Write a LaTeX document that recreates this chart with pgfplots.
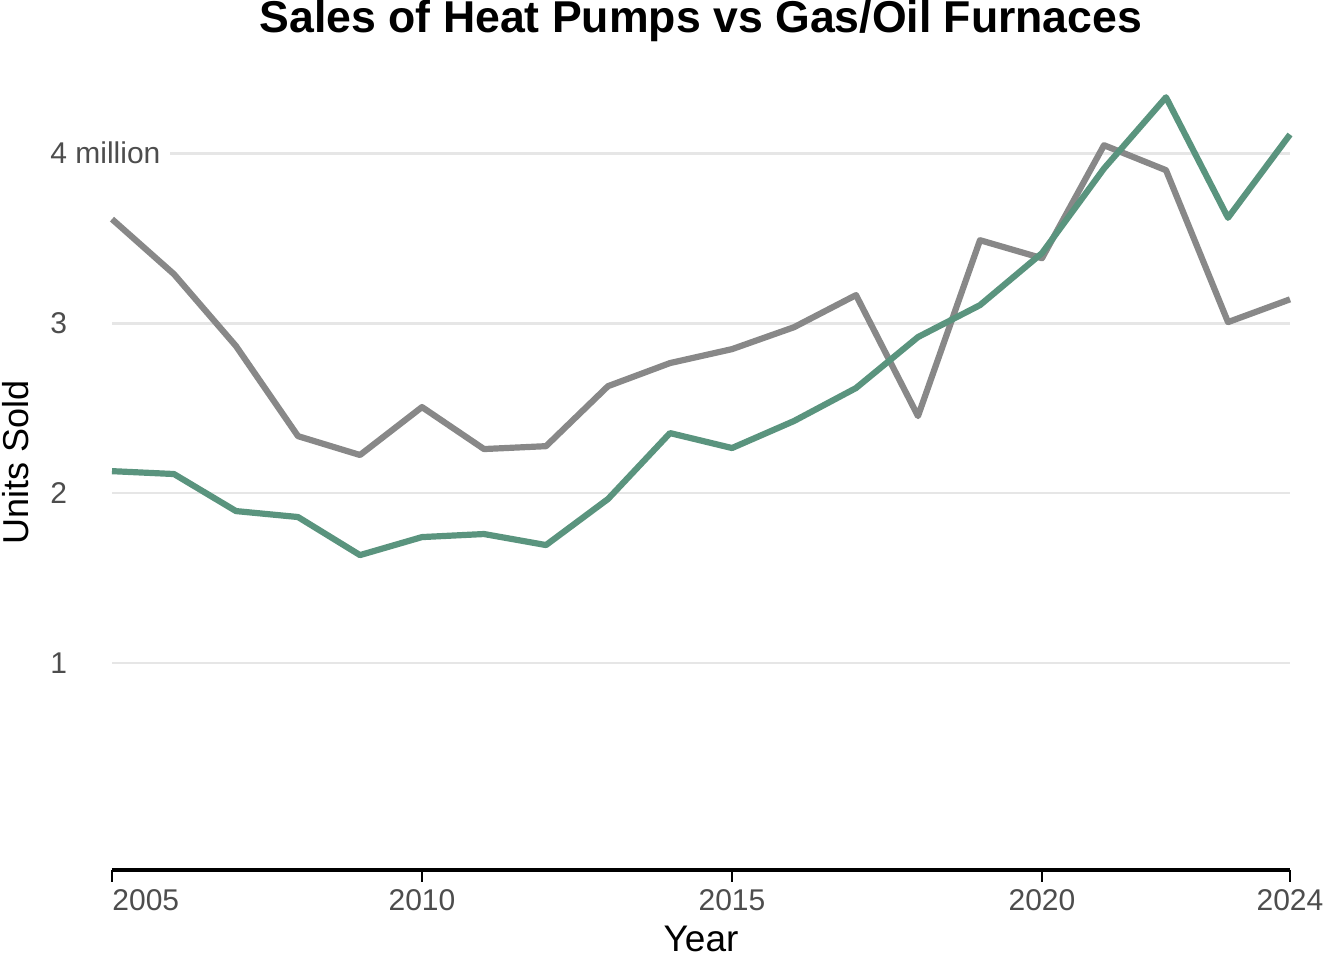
\documentclass[border=0pt]{standalone}
\usepackage{pgfplots}
\pgfplotsset{compat=1.18}
\usepackage{fontspec}
\setmainfont{Liberation Sans}
\definecolor{furnace}{HTML}{888888}
\definecolor{heatpump}{HTML}{5A947E}
\definecolor{gridgrey}{HTML}{E6E6E6}
\definecolor{ticktext}{HTML}{4D4D4D}

\begin{document}
\begin{tikzpicture}
\begin{axis}[
    scale only axis,
    width=589pt,
    height=407.5pt,
    xmin=2005, xmax=2024,
    ymin=-0.218, ymax=4.578,
    axis x line=bottom,
    axis y line=left,
    x axis line style={-, black, line width=1.6pt},
    y axis line style={draw=none},
    xtick={2010,2015,2020,2024},
    xticklabels={2010,2015,2020,2024},
    extra x ticks={2005},
    extra x tick labels={2005},
    extra x tick style={xticklabel style={anchor=north west, inner xsep=0pt}},
    xtick style={black, line width=1pt},
    tick align=outside,
    major tick length=6pt,
    ytick={1,2,3,4},
    yticklabels={1,2,3,{4 million\hspace*{5pt}}},
    ytick style={draw=none},
    yticklabel style={anchor=west, inner sep=0pt, xshift=-25pt, fill=white},
    tick label style={font=\fontsize{15}{18}\selectfont, text=ticktext},
    ymajorgrids,
    grid style={gridgrey, line width=1.4pt},
    title={Sales of Heat Pumps vs Gas/Oil Furnaces},
    title style={font=\fontsize{22.3}{26}\selectfont\bfseries, at={(axis description cs:0.5,1)}, anchor=base, yshift=5pt},
    xlabel={Year},
    ylabel={Units Sold},
    every axis x label/.style={at={(axis description cs:0.5,0)}, anchor=base, yshift=-41pt, font=\fontsize{18.5}{22}\selectfont},
    every axis y label/.style={at={(axis description cs:-0.0713,0.5)}, rotate=90, anchor=base, font=\fontsize{18}{22}\selectfont},
    clip=false,
]
% Gas/Oil furnaces (millions)
\addplot[furnace, line width=3.1pt, line join=round] coordinates {
(2005,3.612) (2006,3.288) (2007,2.865) (2008,2.335) (2009,2.224)
(2010,2.506) (2011,2.259) (2012,2.276) (2013,2.629) (2014,2.765)
(2015,2.847) (2016,2.976) (2017,3.165) (2018,2.453) (2019,3.488)
(2020,3.382) (2021,4.047) (2022,3.900) (2023,3.006) (2024,3.140)};
% Heat pumps (millions)
\addplot[heatpump, line width=3.1pt, line join=round] coordinates {
(2005,2.129) (2006,2.112) (2007,1.894) (2008,1.859) (2009,1.635)
(2010,1.741) (2011,1.759) (2012,1.694) (2013,1.965) (2014,2.353)
(2015,2.265) (2016,2.424) (2017,2.618) (2018,2.918) (2019,3.106)
(2020,3.412) (2021,3.910) (2022,4.329) (2023,3.620) (2024,4.110)};
\coordinate (bbsw) at (axis description cs:-0.09508,-0.11043);
\coordinate (bbne) at (axis description cs:1.04584,1.06748);
\end{axis}
\pgfresetboundingbox
\path[use as bounding box] (bbsw) rectangle (bbne);
\end{tikzpicture}
\end{document}
